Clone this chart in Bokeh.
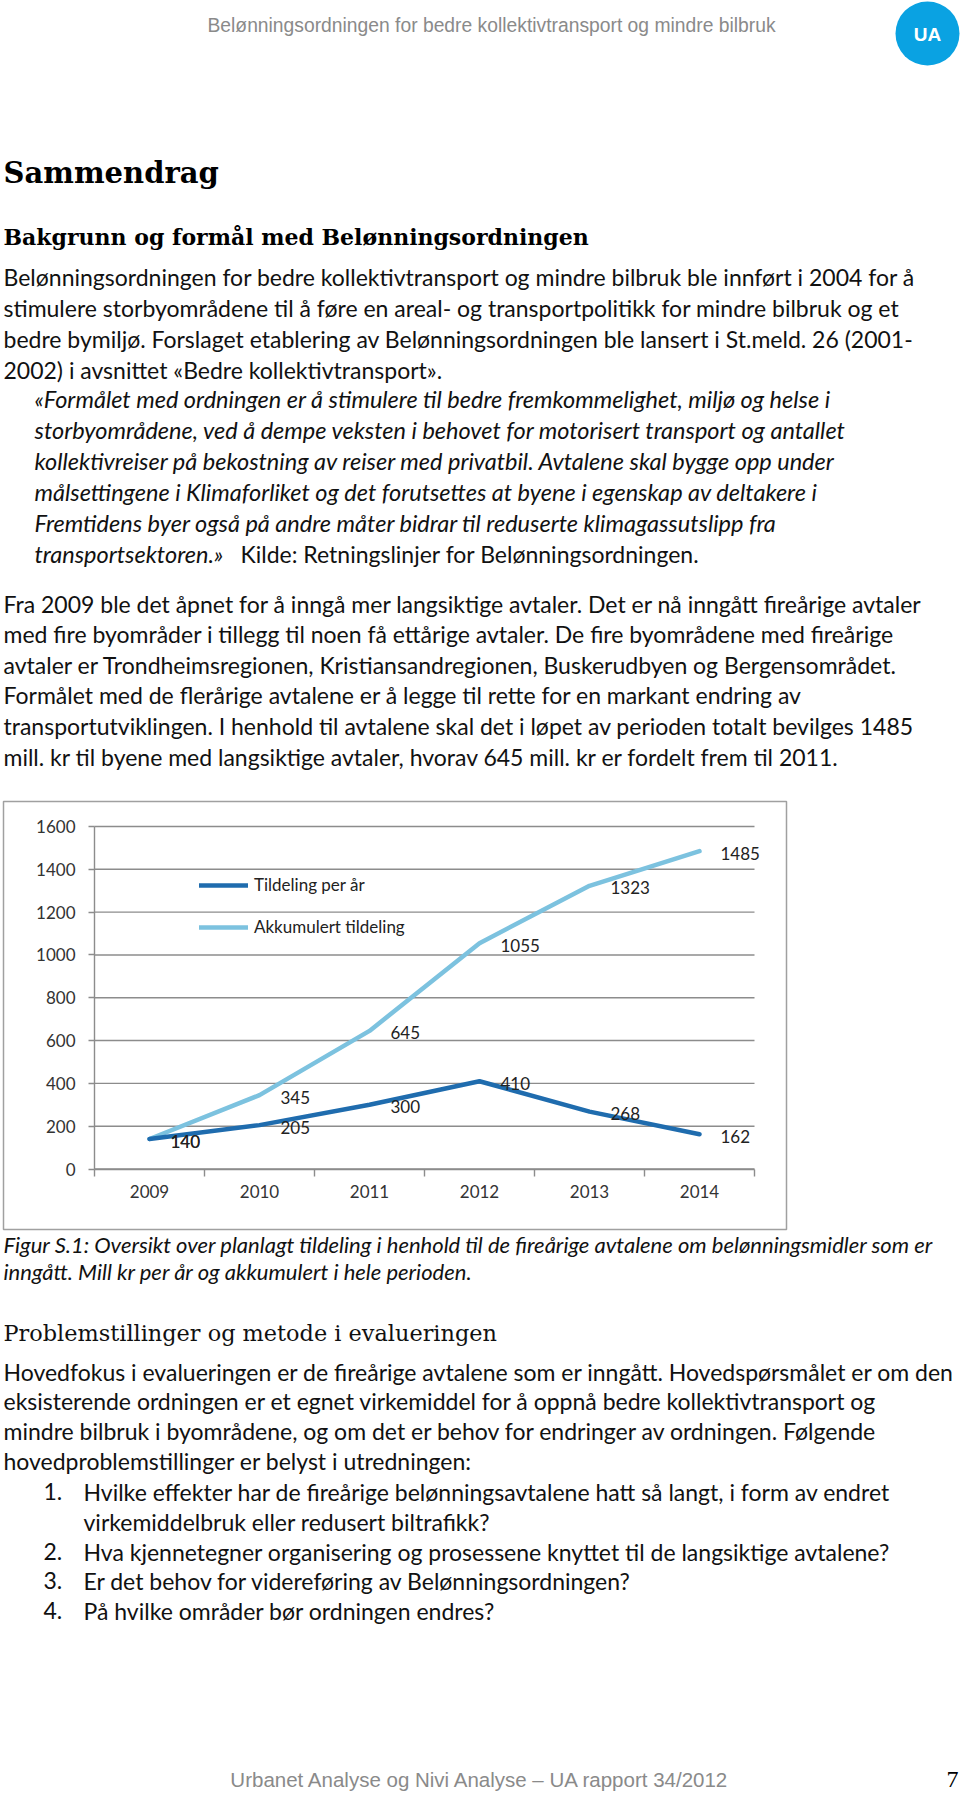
from bokeh.plotting import figure
from bokeh.models import Range1d, FixedTicker, Legend, LegendItem, ColumnDataSource, LinearAxis
from bokeh.embed import file_html
from bokeh.resources import INLINE
from bokeh.core.properties import value

# ---------------- chart data ----------------
years = ["2009", "2010", "2011", "2012", "2013", "2014"]
tildeling = [140, 205, 300, 410, 268, 162]
akkumulert = [140, 345, 645, 1055, 1323, 1485]
y_ticks = [0, 200, 400, 600, 800, 1000, 1200, 1400, 1600]
y_max = 1600
series_names = ["Tildeling per år", "Akkumulert tildeling"]

# ---------------- page text ----------------
header_text = "Belønningsordningen for bedre kollektivtransport og mindre bilbruk"
title_text = "Sammendrag"
heading1 = "Bakgrunn og formål med Belønningsordningen"
para1 = [
    "Belønningsordningen for bedre kollektivtransport og mindre bilbruk ble innført i 2004 for å",
    "stimulere storbyområdene til å føre en areal- og transportpolitikk for mindre bilbruk og et",
    "bedre bymiljø. Forslaget etablering av Belønningsordningen ble lansert i St.meld. 26 (2001-",
    "2002) i avsnittet «Bedre kollektivtransport».",
]
quote = [
    "«Formålet med ordningen er å stimulere til bedre fremkommelighet, miljø og helse i",
    "storbyområdene, ved å dempe veksten i behovet for motorisert transport og antallet",
    "kollektivreiser på bekostning av reiser med privatbil. Avtalene skal bygge opp under",
    "målsettingene i Klimaforliket og det forutsettes at byene i egenskap av deltakere i",
    "Fremtidens byer også på andre måter bidrar til reduserte klimagassutslipp fra",
    "transportsektoren.»",
]
quote_source = "Kilde: Retningslinjer for Belønningsordningen."
para2 = [
    "Fra 2009 ble det åpnet for å inngå mer langsiktige avtaler. Det er nå inngått fireårige avtaler",
    "med fire byområder i tillegg til noen få ettårige avtaler. De fire byområdene med fireårige",
    "avtaler er Trondheimsregionen, Kristiansandregionen, Buskerudbyen og Bergensområdet.",
    "Formålet med de flerårige avtalene er å legge til rette for en markant endring av",
    "transportutviklingen. I henhold til avtalene skal det i løpet av perioden totalt bevilges 1485",
    "mill. kr til byene med langsiktige avtaler, hvorav 645 mill. kr er fordelt frem til 2011.",
]
caption = [
    "Figur S.1: Oversikt over planlagt tildeling i henhold til de fireårige avtalene om belønningsmidler som er",
    "inngått. Mill kr per år og akkumulert i hele perioden.",
]
heading2 = "Problemstillinger og metode i evalueringen"
para3 = [
    "Hovedfokus i evalueringen er de fireårige avtalene som er inngått. Hovedspørsmålet er om den",
    "eksisterende ordningen er et egnet virkemiddel for å oppnå bedre kollektivtransport og",
    "mindre bilbruk i byområdene, og om det er behov for endringer av ordningen. Følgende",
    "hovedproblemstillinger er belyst i utredningen:",
]
list_numbers = ["1.", "", "2.", "3.", "4."]
list_lines = [
    "Hvilke effekter har de fireårige belønningsavtalene hatt så langt, i form av endret",
    "virkemiddelbruk eller redusert biltrafikk?",
    "Hva kjennetegner organisering og prosessene knyttet til de langsiktige avtalene?",
    "Er det behov for videreføring av Belønningsordningen?",
    "På hvilke områder bør ordningen endres?",
]
footer_text = "Urbanet Analyse og Nivi Analyse – UA rapport 34/2012"
page_number = "7"

# ---------------- layout constants (canvas px) ----------------
W, H = 960, 1794
BODY_FONT = "Lato"
BODY_SIZE = 23
SERIF = "DejaVu Serif"
LX = 3                    # left text margin

# chart plot-area placement in canvas pixels
PL, PR = 94, 754          # left / right of plot area
PT, PB = 826, 1168.5      # top / bottom of plot area
BOX = (3, 786, 801, 1229)  # chart border box (left, right, top, bottom)

n = len(years)
ppx = (PR - PL) / n
ppy = (PB - PT) / y_max

p = figure(width=W, height=H, x_range=Range1d(0, W), y_range=Range1d(H, 0),
           output_backend="svg", toolbar_location=None, min_border=0,
           x_axis_location=None, y_axis_location=None)
p.grid.visible = False
p.outline_line_color = None
p.background_fill_color = "white"
p.border_fill_color = "white"
p.extra_x_ranges = {"cx": Range1d(0 - PL / ppx, n + (W - PR) / ppx)}
p.extra_y_ranges = {"cy": Range1d(0 - (H - PB) / ppy, y_max + PT / ppy)}


def txt(xs, ys, texts, font=BODY_FONT, size=BODY_SIZE, color="#111111",
        style="normal", align="left"):
    p.text(x=xs, y=ys, text=texts, text_font=value(font), text_font_size=f"{size}px",
           text_color=color, text_font_style=style, text_align=align,
           text_baseline="middle")


# ---------------- top text ----------------
txt([491], [25], [header_text], font="Liberation Sans", size=19.3,
    color="#8a8a8a", align="center")
p.scatter(x=[927], y=[33], size=64, marker="circle",
          fill_color="#0aa2e2", line_color=None)
txt([927], [34], ["UA"], font="Liberation Sans", size=19,
    color="white", style="bold", align="center")
txt([LX], [172], [title_text], font=SERIF, size=29, style="bold", color="#000000")
txt([LX], [236], [heading1], font=SERIF, size=22, style="bold", color="#000000")

txt([LX] * len(para1), [276 + 31 * i for i in range(len(para1))], para1)
q_y = [398 + 31 * i for i in range(len(quote))]
txt([34] * len(quote), q_y, quote, style="italic", size=23.5)
txt([240], [q_y[-1]], [quote_source])
txt([LX] * len(para2), [603 + 30.6 * i for i in range(len(para2))], para2)

# ---------------- chart ----------------
src = ColumnDataSource(dict(
    x=[i + 0.5 for i in range(n)],
    t=tildeling, a=akkumulert,
    tl=[str(v) for v in tildeling], al=[str(v) for v in akkumulert],
))
grid_col = "#8c8c8c"

p.quad(left=[BOX[0]], right=[BOX[1]], top=[BOX[2]], bottom=[BOX[3]],
       fill_color=None, line_color="#a0a0a0", line_width=1.5)

p.segment(x0=0, x1=n, y0=y_ticks, y1=y_ticks, line_color=grid_col, line_width=1.4,
          x_range_name="cx", y_range_name="cy")

yaxis = LinearAxis(x_range_name="cx", y_range_name="cy", fixed_location=0,
                   bounds=(0, y_max), ticker=FixedTicker(ticks=y_ticks))
yaxis.axis_line_color = grid_col
yaxis.axis_line_width = 1.4
yaxis.major_tick_line_color = grid_col
yaxis.major_tick_line_width = 1.4
yaxis.major_tick_out = 6
yaxis.major_tick_in = 0
yaxis.minor_tick_line_color = None
yaxis.major_label_standoff = 13
yaxis.major_label_text_font = BODY_FONT
yaxis.major_label_text_font_size = "17px"
yaxis.major_label_text_color = "#333333"
p.add_layout(yaxis, "left")

centers = [i + 0.5 for i in range(n)]
bounds = [i for i in range(n + 1)]
xaxis = LinearAxis(x_range_name="cx", y_range_name="cy", fixed_location=0,
                   bounds=(0, n), ticker=FixedTicker(ticks=centers, minor_ticks=bounds))
xaxis.major_label_overrides = {centers[i]: years[i] for i in range(n)}
xaxis.axis_line_color = grid_col
xaxis.axis_line_width = 1.4
xaxis.major_tick_line_color = None
xaxis.major_tick_out = 7
xaxis.major_tick_in = 0
xaxis.minor_tick_line_color = grid_col
xaxis.minor_tick_line_width = 1.4
xaxis.minor_tick_out = 7
xaxis.minor_tick_in = 0
xaxis.major_label_standoff = 9
xaxis.major_label_text_font = BODY_FONT
xaxis.major_label_text_font_size = "17px"
xaxis.major_label_text_color = "#333333"
p.add_layout(xaxis, "below")

dark = "#1f6cae"
light = "#7cc2df"
r2 = p.line("x", "a", source=src, line_color=light, line_width=4.5,
            line_cap="round", line_join="round", x_range_name="cx", y_range_name="cy")
r1 = p.line("x", "t", source=src, line_color=dark, line_width=4.5,
            line_cap="round", line_join="round", x_range_name="cx", y_range_name="cy")

for col, ycol in (("tl", "t"), ("al", "a")):
    p.text(x="x", y=ycol, text=col, source=src, x_range_name="cx", y_range_name="cy",
           x_offset=21, y_offset=2, text_align="left", text_baseline="middle",
           text_font=value(BODY_FONT), text_font_size="17px", text_color="#222222")

leg = Legend(items=[LegendItem(label=series_names[0], renderers=[r1]),
                    LegendItem(label=series_names[1], renderers=[r2])],
             location=(199, H - 937), orientation="vertical",
             glyph_width=49, glyph_height=20, label_height=20, label_standoff=6,
             spacing=21, padding=0, margin=0, border_line_color=None,
             background_fill_alpha=0, label_text_font=BODY_FONT,
             label_text_font_size="17px", label_text_color="#222222")
p.add_layout(leg)

# ---------------- bottom text ----------------
txt([LX, LX], [1244, 1271], caption, size=22, style="italic")
txt([LX], [1332], [heading2], font=SERIF, size=22.4, color="#111111")
txt([LX] * len(para3), [1371 + 29.7 * i for i in range(len(para3))], para3)
l_y = [1491, 1521, 1551, 1580, 1610]
txt([43] * len(list_numbers), l_y, list_numbers)
txt([83] * len(list_lines), l_y, list_lines)
txt([480], [1779], [footer_text], font="Liberation Sans", size=20.5,
    color="#8a8a8a", align="center")
txt([952], [1779], [page_number], font="Liberation Serif", size=24,
    color="#000000", align="center")

open("out.html", "w").write(file_html(p, INLINE, title="Sammendrag"))
